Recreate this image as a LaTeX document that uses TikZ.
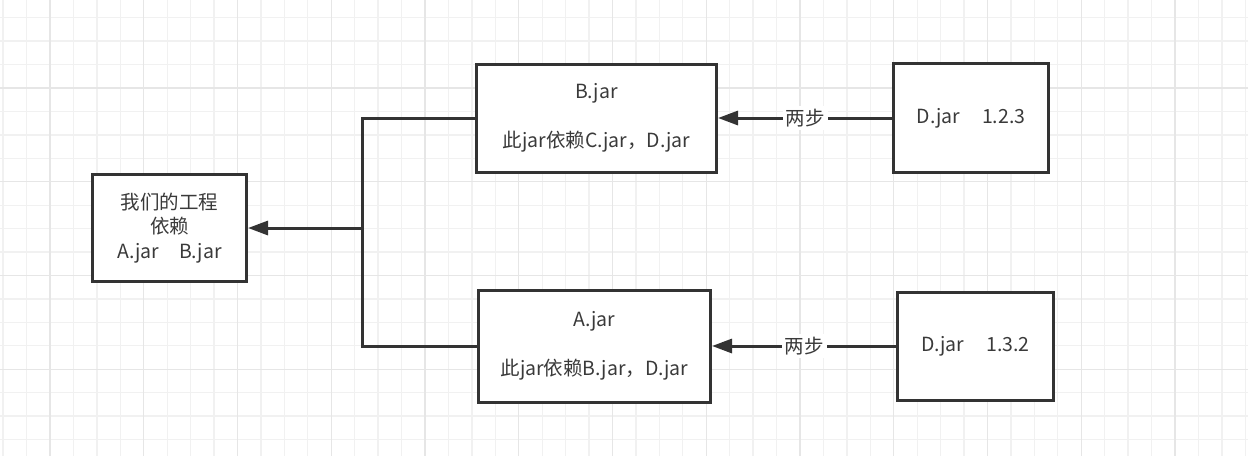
\documentclass[tikz,border=0pt]{standalone}
\usepackage{fontspec}
\setmainfont{Noto Sans CJK SC}
\usetikzlibrary{arrows.meta}
\definecolor{ink}{HTML}{333333}
\definecolor{txt}{HTML}{3A3A3A}
\definecolor{gminor}{HTML}{F1F1F1}
\definecolor{gmajor}{HTML}{E6E6E6}
\tikzset{
  minorline/.style={gminor,line width=1.3pt},
  majorline/.style={gmajor,line width=1.3pt},
  jarbox/.style={draw=ink,line width=3pt,fill=white,rectangle,inner sep=0pt,align=center,text=txt,font=\fontsize{19.5pt}{24.5pt}\selectfont},
  conn/.style={draw=ink,line width=3pt},
  arr/.style={conn,-{Triangle[length=20pt,width=14pt]}},
  lbl/.style={fill=white,text=txt,inner sep=3pt,font=\fontsize{19.5pt}{24.5pt}\selectfont}
}
\begin{document}
\begin{tikzpicture}[x=1pt,y=-1pt]
\useasboundingbox (0,0) rectangle (1248,456);
\fill[white] (0,0) rectangle (1248,456);
\begin{scope}
\clip (0,0) rectangle (1248,456);
\foreach \i in {0,...,53} \draw[minorline] ({3.1+23.4375*\i},0) -- ({3.1+23.4375*\i},456);
\foreach \i in {0,...,19} \draw[minorline] (0,{17.7+23.4375*\i}) -- (1248,{17.7+23.4375*\i});
\foreach \i in {0,...,13} \draw[majorline] ({50+93.75*\i},0) -- ({50+93.75*\i},456);
\foreach \i in {0,...,4} \draw[majorline] (0,{88+93.75*\i}) -- (1248,{88+93.75*\i});
\end{scope}

\node[jarbox,minimum width=154pt,minimum height=107pt] (L) at (169.5,228) {我们的工程\\依赖\\A.jar\hspace{20pt}B.jar};
\node[jarbox,minimum width=240pt,minimum height=108pt] (B) at (596.5,118) {B.jar\\[24.5pt]此jar依赖C.jar，D.jar};
\node[jarbox,minimum width=155pt,minimum height=109pt] (D1) at (971,118) {D.jar\hspace{22pt}1.2.3};
\node[jarbox,minimum width=232pt,minimum height=112pt] (A) at (594.5,346) {A.jar\\[24.5pt]此jar依赖B.jar，D.jar};
\node[jarbox,minimum width=156pt,minimum height=108pt] (D2) at (975.5,346) {D.jar\hspace{22pt}1.3.2};

\coordinate (j) at (362.5,228);
\draw[conn] (B.west) -| (j);
\draw[conn] (A.west) -| (j);
\draw[arr] (j) -- (L.east);
\draw[arr] (D1.west) -- node[lbl] {两步} (B.east);
\draw[arr] (D2.west) -- node[lbl] {两步} (A.east);
\end{tikzpicture}
\end{document}
